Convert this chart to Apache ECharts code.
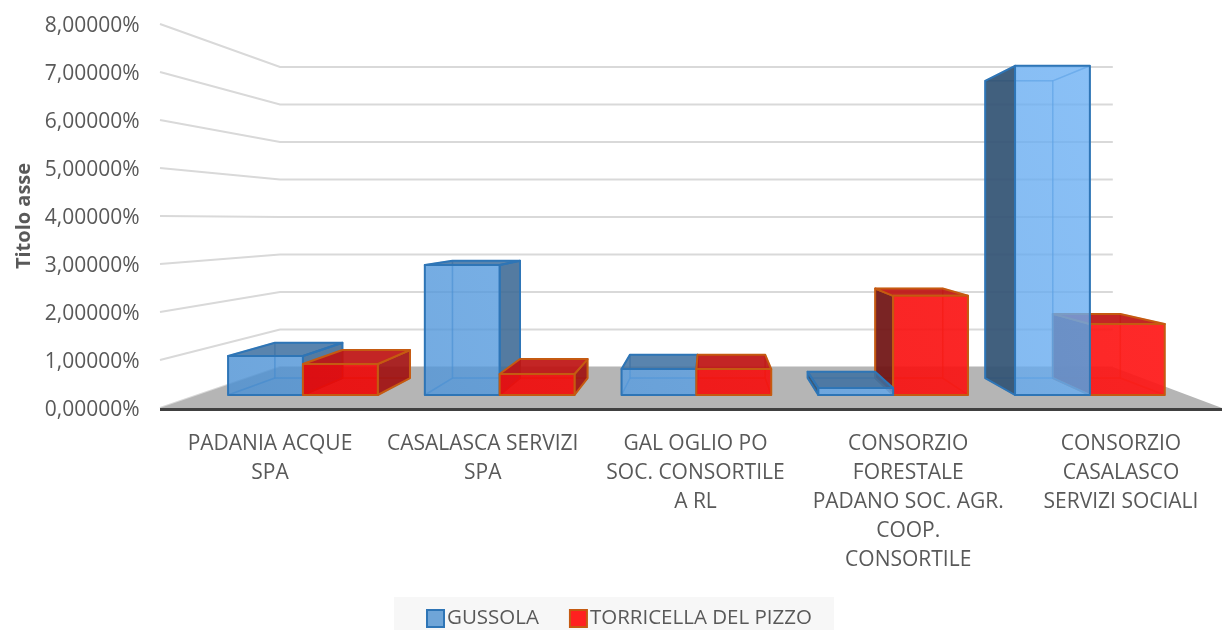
<!DOCTYPE html>
<html>
<head>
<meta charset="utf-8">
<script src="https://cdn.jsdelivr.net/npm/echarts@6/dist/echarts.min.js"></script>
<style>html,body{margin:0;padding:0;background:#fff}#c{width:1222px;height:630px}</style>
</head>
<body>
<div id="c"></div>
<script>
const categories = ['PADANIA ACQUE\nSPA','CASALASCA SERVIZI\nSPA','GAL OGLIO PO\nSOC. CONSORTILE\nA RL','CONSORZIO\nFORESTALE\nPADANO SOC. AGR.\nCOOP.\nCONSORTILE','CONSORZIO\nCASALASCO\nSERVIZI SOCIALI'];
const gussola = [0.873, 2.91, 0.58, 0.156, 7.37];
const torricella = [0.694, 0.47, 0.58, 2.22, 1.59];
const yTicks = [0,1,2,3,4,5,6,7,8];

// perspective of the chart box
const VP = [708.6, 220.6];
const S_WALL_BACK = 0.78125, S_BAR_FRONT = 0.9306, S_BAR_BACK = 0.84;
const WALL_L = 160, WALL_R = 1222, WALL_LINE_R = 1226;
const FONT = '"Open Sans", sans-serif';
const TXT = '#595959';
const proj = (x, y, s) => [VP[0] + (x - VP[0]) * s, VP[1] + (y - VP[1]) * s];
// bars spread very slightly less than the labels of the axis
const worldX = x => 272.7 + (x - 270) * 0.9937;

const grad = (a, b) => new echarts.graphic.LinearGradient(200, 395, 1100, 60, [{offset:0,color:a},{offset:1,color:b}], true);
const STY = {
  blue: {front: () => grad('rgba(72,142,210,.78)','rgba(109,177,245,.78)'), edge:'#2e75b6', faint:'rgba(46,117,182,.4)', hidden:'rgba(91,155,213,.08)',
         left:'rgba(52,84,116,.93)', right:'rgba(62,106,148,.88)', top:'rgba(62,112,160,.85)', bottom:'rgba(91,155,213,.15)'},
  red:  {front: () => grad('rgba(235,0,0,.88)','rgba(255,25,25,.92)'), edge:'#c55a11', faint:'rgba(197,90,17,.4)', hidden:'rgba(255,0,0,.08)',
         left:'rgba(112,20,20,.93)', right:'rgba(160,15,15,.9)', top:'rgba(190,20,20,.92)', bottom:'rgba(255,0,0,.12)'}
};

function barItem(sty, side) {
  return function (params, api) {
    const i = api.value(0), v = api.value(1);
    const bw = api.size([1, 0])[0] * 0.378;
    const c = api.coord([i, v]), c0 = api.coord([i, 0]);
    const cx = worldX(c[0]);
    const xa = side < 0 ? cx - bw : cx, xb = side < 0 ? cx : cx + bw;
    const F = S_BAR_FRONT, B = S_BAR_BACK;
    const ftl = proj(xa, c[1], F), ftr = proj(xb, c[1], F), fbl = proj(xa, c0[1], F), fbr = proj(xb, c0[1], F);
    const btl = proj(xa, c[1], B), btr = proj(xb, c[1], B), bbl = proj(xa, c0[1], B), bbr = proj(xb, c0[1], B);
    const leftVis = xa > VP[0], rightVis = xb < VP[0], topVis = c[1] > VP[1];
    const base = (i >= 3) === (side < 0) ? 20 : 10;
    const faces = [];
    const add = (points, fill, stroke, lw) => faces.push({type:'polygon', silent:true, z2: base + faces.length,
      shape:{points}, style:{fill, stroke, lineWidth: lw, lineJoin:'round'}});
    add([bbl,bbr,fbr,fbl], sty.bottom, sty.faint, 1.5);
    add([btl,btr,bbr,bbl], sty.hidden, sty.faint, 1.5);
    if (!leftVis) add([ftl,btl,bbl,fbl], sty.hidden, sty.faint, 1.5);
    if (!rightVis) add([ftr,btr,bbr,fbr], sty.hidden, sty.faint, 1.5);
    if (!topVis) add([ftl,ftr,btr,btl], sty.hidden, sty.faint, 1.5);
    if (leftVis) add([ftl,btl,bbl,fbl], sty.left, sty.edge, 2);
    if (rightVis) add([ftr,btr,bbr,fbr], sty.right, sty.edge, 2);
    if (topVis) add([ftl,ftr,btr,btl], sty.top, sty.edge, 2);
    add([ftl,ftr,fbr,fbl], sty.front(), sty.edge, 2);
    return {type:'group', children:faces};
  };
}

function wallItem(params, api) {
  const y = api.coord([0, api.value(0)])[1];
  const a = [WALL_L, y], b = proj(WALL_L, y, S_WALL_BACK), d = proj(WALL_LINE_R, y, S_WALL_BACK);
  return {type:'polyline', silent:true, shape:{points:[a,b,d]}, style:{fill:'none', stroke:'#d9d9d9', lineWidth:2}};
}

function floorItem(params, api) {
  const y = api.coord([0, 0])[1];
  return {type:'group', children:[
    {type:'polygon', silent:true, shape:{points:[[WALL_L,y],proj(WALL_L,y,S_WALL_BACK),proj(WALL_LINE_R,y,S_WALL_BACK),[WALL_R,y]]},
     style:{fill:'#b5b5b5'}},
    {type:'line', silent:true, shape:{x1:WALL_L,y1:y+1.5,x2:WALL_R,y2:y+1.5}, style:{stroke:'#404040',lineWidth:3}}
  ]};
}

const chart = echarts.init(document.getElementById('c'), null, {renderer:'canvas'});
chart.setOption({
  animation:false,
  backgroundColor:'#fff',
  grid:{left:163.6, width:1063.75, top:24, height:384, outerBoundsMode:'none'},
  xAxis:{type:'category', data:categories, axisLine:{show:false}, axisTick:{show:false}, splitLine:{show:false},
    axisLabel:{interval:0, margin:22, fontFamily:FONT, fontSize:21, lineHeight:29, color:TXT, hideOverlap:false}},
  yAxis:{type:'value', min:0, max:8, interval:1, axisLine:{show:false}, axisTick:{show:false}, splitLine:{show:false},
    name:'Titolo asse', nameLocation:'middle', nameGap:129, nameRotate:90,
    nameTextStyle:{fontFamily:FONT, fontSize:20, fontWeight:'bold', color:TXT},
    axisLabel:{margin:24, fontFamily:FONT, fontSize:21, color:TXT, verticalAlign:'top', lineHeight:5, formatter:v => v.toFixed(5).replace('.',',') + '%'}},
  legend:{left:394, top:597, backgroundColor:'#f7f7f7', padding:[11,22,1,32], itemWidth:17, itemHeight:17, itemGap:30,
    textStyle:{fontFamily:FONT, fontSize:20.5, color:TXT, padding:[0,0,0,-2]},
    data:[
      {name:'GUSSOLA', icon:'rect', itemStyle:{color:'#6fa5d8', borderColor:'#2e75b6', borderWidth:2}},
      {name:'TORRICELLA DEL PIZZO', icon:'rect', itemStyle:{color:'#ff2020', borderColor:'#c55a11', borderWidth:2}}
    ]},
  series:[
    {type:'custom', name:'pareti', coordinateSystem:'cartesian2d', clip:false, z:1, data:yTicks.map(v=>[v]), encode:{y:0}, renderItem:wallItem},
    {type:'custom', name:'base', coordinateSystem:'cartesian2d', clip:false, z:1, data:[[0]], encode:{y:0}, renderItem:floorItem},
    {type:'custom', name:'GUSSOLA', coordinateSystem:'cartesian2d', clip:false, z:2, data:gussola.map((v,i)=>[i,v]), encode:{x:0,y:1},
      itemStyle:{color:'#6fa5d8'}, renderItem:barItem(STY.blue,-1)},
    {type:'custom', name:'TORRICELLA DEL PIZZO', coordinateSystem:'cartesian2d', clip:false, z:2, data:torricella.map((v,i)=>[i,v]), encode:{x:0,y:1},
      itemStyle:{color:'#ff2020'}, renderItem:barItem(STY.red,1)}
  ]
});
</script>
</body>
</html>
